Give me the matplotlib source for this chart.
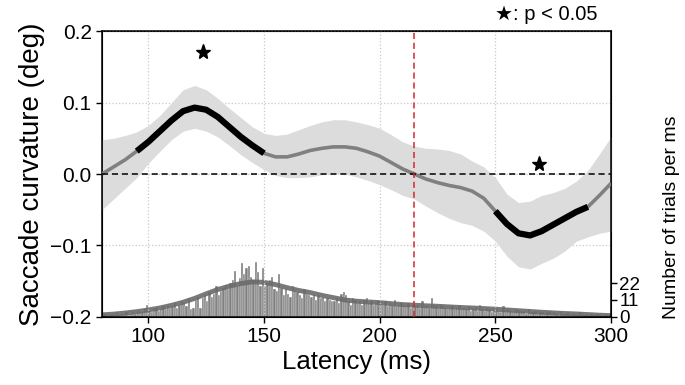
import numpy as np
import matplotlib
matplotlib.use("Agg")
import matplotlib.pyplot as plt

plt.rcParams['font.family'] = ['Liberation Sans', 'DejaVu Sans']

# ---- curvature time course (5 ms grid) ----
latency = [80, 85, 90, 95, 100, 105, 110, 115, 120, 125, 130, 135, 140, 145, 150,
           155, 160, 165, 170, 175, 180, 185, 190, 195, 200, 205, 210, 215, 220,
           225, 230, 235, 240, 245, 250, 255, 260, 265, 270, 275, 280, 285, 290,
           295, 300]
curv_mean = [0.000, 0.010, 0.020, 0.032, 0.045, 0.060, 0.075, 0.088, 0.093, 0.090,
             0.080, 0.066, 0.052, 0.040, 0.029, 0.024, 0.024, 0.028, 0.033, 0.036,
             0.038, 0.038, 0.036, 0.031, 0.025, 0.016, 0.007, 0.000, -0.007, -0.012,
             -0.016, -0.019, -0.024, -0.034, -0.052, -0.070, -0.083, -0.086, -0.080,
             -0.071, -0.062, -0.053, -0.046, -0.030, -0.013]
curv_hi = [0.048, 0.050, 0.054, 0.059, 0.068, 0.082, 0.100, 0.118, 0.124, 0.118,
           0.106, 0.092, 0.079, 0.066, 0.057, 0.054, 0.056, 0.062, 0.068, 0.073,
           0.076, 0.076, 0.073, 0.069, 0.064, 0.055, 0.045, 0.039, 0.036, 0.035,
           0.033, 0.028, 0.018, 0.010, -0.005, -0.028, -0.040, -0.038, -0.030,
           -0.026, -0.020, -0.010, 0.005, 0.028, 0.052]
curv_lo = [-0.050, -0.035, -0.020, -0.005, 0.015, 0.032, 0.048, 0.060, 0.064, 0.060,
           0.052, 0.040, 0.027, 0.016, 0.006, -0.002, -0.005, -0.005, -0.004, -0.001,
           0.001, 0.000, -0.004, -0.009, -0.015, -0.022, -0.030, -0.035, -0.045,
           -0.054, -0.062, -0.068, -0.072, -0.080, -0.094, -0.115, -0.130, -0.133,
           -0.125, -0.118, -0.108, -0.094, -0.088, -0.083, -0.080]
sig_ranges = [(95, 150), (250, 290)]
star_x = [123.5, 269]
star_y = [0.171, 0.014]
split_latency = 215

# ---- trial counts per ms (80..299) ----
hist_counts = [
    1, 2, 0, 1, 2, 1, 3, 1, 2, 2,
    3, 1, 2, 3, 2, 4, 3, 3, 5, 8,
    4, 3, 5, 6, 4, 5, 7, 5, 8, 6,
    7, 9, 6, 8, 10, 9, 7, 12, 5, 6,
    11, 13, 6, 12, 14, 10, 16, 13, 15, 20,
    14, 17, 19, 21, 18, 22, 24, 30, 20, 25,
    35, 28, 32, 33, 26, 24, 36, 29, 20, 32,
    20, 22, 24, 26, 18, 17, 28, 19, 14, 18,
    15, 13, 20, 17, 16, 14, 12, 18, 15, 14,
    13, 15, 11, 14, 12, 13, 10, 12, 11, 10,
    10, 12, 9, 15, 16, 14, 10, 8, 12, 11,
    9, 10, 8, 11, 12, 9, 10, 8, 9, 10,
    9, 8, 10, 7, 9, 8, 11, 7, 8, 9,
    8, 7, 9, 6, 8, 7, 8, 6, 10, 7,
    7, 6, 12, 8, 7, 6, 8, 7, 6, 5,
    6, 7, 5, 6, 8, 5, 6, 5, 7, 4,
    5, 6, 4, 8, 5, 4, 6, 5, 3, 5,
    5, 4, 3, 7, 4, 5, 4, 3, 4, 5,
    4, 3, 4, 2, 5, 3, 3, 4, 2, 3,
    3, 2, 3, 4, 2, 3, 2, 1, 3, 2,
    2, 3, 1, 2, 2, 1, 3, 2, 1, 2,
    1, 2, 1, 1, 2, 1, 0, 1, 1, 1]
hist_start = 80
hist_smooth = [1.3, 1.8, 2.5, 3.4, 4.5, 5.8, 7.5, 9.5, 12.0, 15.0, 17.8, 20.0,
               21.7, 22.8, 22.5, 21.0, 19.0, 17.2, 15.8, 14.0, 12.5, 11.0, 10.2,
               9.7, 9.3, 8.6, 8.0, 7.6, 7.2, 6.9, 6.5, 6.1, 5.8, 5.4, 5.0, 4.5,
               4.0, 3.5, 3.0, 2.6, 2.2, 1.9, 1.5, 1.1, 0.8]
count_ticks = [0, 11, 22]

lat = np.array(latency, dtype=float)
mean = np.array(curv_mean)

fig = plt.figure(figsize=(6.85, 3.85), dpi=100)
ax = fig.add_axes([0.149, 0.177, 0.743, 0.742])
ax2 = ax.twinx()
ax.set_zorder(ax2.get_zorder() + 1)
ax.patch.set_visible(False)

# histogram on secondary axis
bins = np.arange(hist_start, hist_start + len(hist_counts))
ax2.bar(bins + 0.5, hist_counts, width=1.0, color='#808080', edgecolor='white',
        linewidth=0.25, zorder=1)
ax2.plot(lat, hist_smooth, color='#6a6a6a', lw=3.5, alpha=0.9, zorder=2)
ax2.set_ylim(0, 186)
ax2.set_yticks(count_ticks)
ax2.set_yticklabels([str(t) for t in count_ticks], fontsize=13.5)
ax2.tick_params(axis='y', length=4, width=1, pad=2)

# main axis
ax.fill_between(lat, curv_lo, curv_hi, color='#dcdcdc', lw=0, zorder=1)
ax.plot(lat, mean, color='#808080', lw=2.6, zorder=3, solid_capstyle='butt')
for a, b in sig_ranges:
    m = (lat >= a) & (lat <= b)
    ax.plot(lat[m], mean[m], color='black', lw=4.5, zorder=4, solid_capstyle='butt')
ax.axhline(0, color='black', lw=1.1, ls=(0, (4, 2.5)), zorder=5)
ax.axvline(split_latency, color='#d62728', lw=1.1, ls=(0, (4, 2.5)), zorder=5)
ax.plot(star_x, star_y, ls='none', marker='*', color='black', ms=11, zorder=6)

ax.set_xlim(80, 300)
ax.set_ylim(-0.2, 0.2)
ax.set_xticks([100, 150, 200, 250, 300])
ax.set_yticks([-0.2, -0.1, 0.0, 0.1, 0.2])
ax.set_yticklabels(['\u22120.2', '\u22120.1', '0.0', '0.1', '0.2'])
ax.tick_params(labelsize=15, length=4, width=1)
ax.grid(True, ls=':', color='#c8c8c8', lw=0.9)
ax.set_axisbelow(True)
ax.set_xlabel('Latency (ms)', fontsize=18.5, labelpad=3)
ax.set_ylabel('Saccade curvature (deg)', fontsize=20, labelpad=4)
for s in ax.spines.values():
    s.set_linewidth(1.1)

fig.text(0.981, 0.436, 'Number of trials per ms', rotation=90, ha='center',
         va='center', fontsize=14)
fig.text(0.872, 0.962, '\u2605: p < 0.05', ha='right', va='center', fontsize=14.5,
         family=['Liberation Sans', 'DejaVu Sans'])

fig.savefig('out.png', dpi=100)
